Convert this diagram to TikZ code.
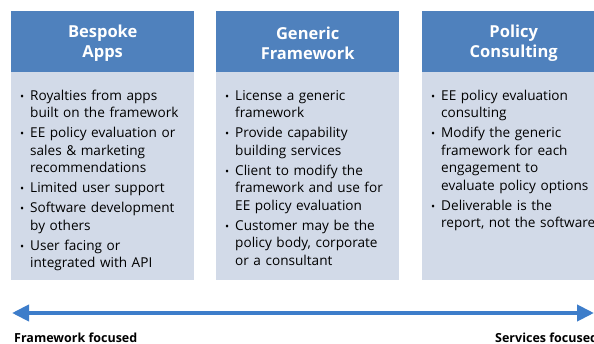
\documentclass[tikz,border=0pt]{standalone}
\usepackage{fontspec}
\setmainfont{Open Sans}
\usetikzlibrary{arrows.meta}
\definecolor{headblue}{HTML}{4F81BD}
\definecolor{bodyblue}{HTML}{D2DAE8}
\definecolor{arrowblue}{HTML}{3D7DCA}
% one bullet point with hanging indent; lines broken by \newline
\newcommand{\bpoint}[1]{\par\hangindent=10pt\hangafter=1\noindent\makebox[10pt][l]{\scalebox{0.8}{\textbullet}}#1}
\tikzset{
  headbox/.style={fill=headblue, draw=none, minimum width=183pt, minimum height=61pt,
    anchor=north west, inner sep=0pt},
  headtext/.style={inner sep=0pt, text=white, align=center,
    font=\fontsize{16.5}{20}\selectfont\bfseries},
  bodybox/.style={fill=bodyblue, draw=none, minimum width=183pt, minimum height=208pt,
    anchor=north west, inner sep=0pt},
  bodytext/.style={anchor=north west, inner sep=0pt, text width=200pt,
    font=\fontsize{13.6}{17.5}\selectfont},
  endlabel/.style={inner sep=0pt, font=\fontsize{12.5}{14}\selectfont\bfseries},
}
\newcommand{\itemlist}[1]{\raggedright\setlength{\parskip}{2.5pt}#1\par}
\begin{document}
\begin{tikzpicture}[x=1pt,y=-1pt]
\useasboundingbox (0,0) rectangle (594,344);
\clip (0,0) rectangle (594,344);
% column headers
\node[headbox] (h1) at (11,11) {};
\node[headbox] (h2) at (216,11) {};
\node[headbox] (h3) at (422,11) {};
\node[headtext] (ht1) at ([yshift=-2pt]h1.center) {Bespoke\\Apps};
\node[headtext] (ht2) at ([yshift=-2pt]h2.center) {Generic\\Framework};
\node[headtext] (ht3) at ([yshift=-2pt]h3.center) {Policy\\Consulting};
% column bodies
\node[bodybox] (b1) at (11,72) {};
\node[bodybox] (b2) at (216,72) {};
\node[bodybox] (b3) at (422,72) {};
\node[bodytext] (t1) at (20,80) {\itemlist{%
\bpoint{Royalties from apps\newline built on the framework}
\bpoint{EE policy evaluation or\newline sales \& marketing\newline recommendations}
\bpoint{Limited user support}
\bpoint{Software development\newline by others}
\bpoint{User facing or\newline integrated with API}}};
\node[bodytext] (t2) at (225,80) {\itemlist{%
\bpoint{License a generic\newline framework}
\bpoint{Provide capability\newline building services}
\bpoint{Client to modify the\newline framework and use for\newline EE policy evaluation}
\bpoint{Customer may be the\newline policy body, corporate\newline or a consultant}}};
\node[bodytext] (t3) at (431,80) {\itemlist{%
\bpoint{EE policy evaluation\newline consulting}
\bpoint{Modify the generic\newline framework for each\newline engagement to\newline evaluate policy options}
\bpoint{Deliverable is the\newline report, not the software}}};
% double-headed spectrum arrow
\coordinate (aL) at (12,313);
\coordinate (aR) at (594,313);
\draw[arrowblue, line width=4pt, {Triangle[length=17pt,width=16pt]}-{Triangle[length=17pt,width=16pt]}] (aL) -- (aR);
\node[endlabel, anchor=base west] (lf) at (14,342) {Framework focused};
\node[endlabel, anchor=base west] (ls) at (495,342) {Services focused};
\end{tikzpicture}
\end{document}
